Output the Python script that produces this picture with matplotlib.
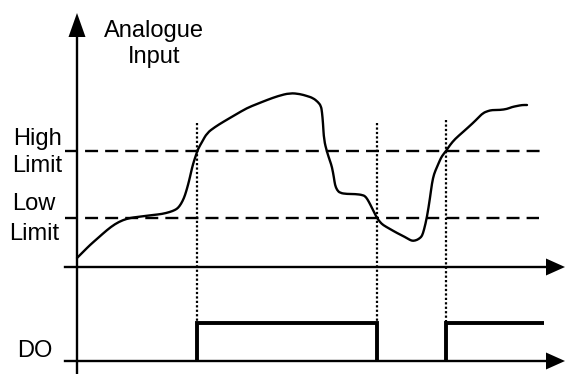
import numpy as np
import matplotlib.pyplot as plt
from matplotlib.patches import Polygon, PathPatch
from matplotlib.path import Path

# Diagrama de alarma: entrada analogica con limites alto/bajo y salida digital DO
# coordenadas en pixeles de la imagen (eje y hacia abajo)
curve_x = [77, 84, 90, 98, 107, 115, 123, 130, 137, 145, 153, 162, 170, 175, 178, 181,
           184, 186, 188, 190, 192, 194, 196, 198, 202, 207, 215, 223, 235, 247, 257,
           267, 278, 290, 300, 307, 313, 318, 321, 322, 323, 324, 327, 330, 332, 334,
           335, 337, 340, 347, 355, 363, 366, 369, 372, 375, 377, 380, 383, 390, 397,
           405, 410, 413, 417, 420, 422, 424, 427, 430, 432, 434, 437, 440, 442, 446,
           450, 455, 463, 473, 478, 483, 488, 492, 500, 507, 512, 517, 522, 527]
curve_y = [258, 251, 245, 238, 230, 224, 220, 218, 217, 216, 215, 214, 212, 210, 208, 204,
           198, 192, 185, 177, 168, 161, 155, 149, 142, 133, 127, 122, 115, 108, 104,
           100, 96, 93, 94, 96, 98, 102, 106, 112, 123, 140, 152, 161, 167, 178,
           185, 190, 193, 194, 194, 195, 197, 202, 208, 214, 218, 222, 225, 229, 233,
           237, 240, 241, 240, 238, 236, 230, 217, 198, 183, 174, 167, 160, 156, 151,
           145, 139, 132, 123, 118, 113, 111, 110, 110, 109, 107, 106, 105, 105]

high_limit = 151
low_limit = 218
switch_x = [197, 377, 446]          # instantes de cruce (lineas punteadas)
dotted_top = [123, 123, 120]
# pulsos de DO: (inicio, fin, tiene flanco de bajada)
do_on = [197, 446]
do_off = [377, 544]
do_falls = [True, False]

# niveles del grafico
axis_x = 77
axis_top_y = 267
axis_do_y = 361
do_high_y = 323

W, H = 566, 374
fig = plt.figure(figsize=(W / 100, H / 100), dpi=100)
ax = fig.add_axes([0, 0, 1, 1])
ax.set_xlim(0, W)
ax.set_ylim(H, 0)
ax.axis('off')

lw = 1.7
k = 'black'

# ejes
ax.plot([axis_x, axis_x], [373, 30], color=k, lw=lw)
ax.add_patch(Polygon([[axis_x, 13], [axis_x - 8.5, 37], [axis_x + 8.5, 37]], closed=True, color=k, lw=0))
for yy in [axis_top_y, axis_do_y]:
    ax.plot([65, 550], [yy, yy], color=k, lw=lw)
    ax.add_patch(Polygon([[565, yy], [546, yy - 8.5], [546, yy + 8.5]], closed=True, color=k, lw=0))

# limites
ax.plot([65, 543], [high_limit, high_limit], color=k, lw=lw, dashes=(5.5, 3))
ax.plot([65, 539], [low_limit, low_limit], color=k, lw=lw, dashes=(5.5, 3))

# lineas punteadas de conmutacion
for sx, st in zip(switch_x, dotted_top):
    ax.plot([sx, sx], [st, do_high_y], color=k, lw=1.6, linestyle=(0, (1, 1)))

# senal analogica, suavizada con curvas de Bezier cuadraticas
pts = list(zip(curve_x, curve_y))
verts = [pts[0]]
codes = [Path.MOVETO]
for i in range(1, len(pts) - 1):
    mid = ((pts[i][0] + pts[i + 1][0]) / 2, (pts[i][1] + pts[i + 1][1]) / 2)
    verts += [pts[i], mid]
    codes += [Path.CURVE3, Path.CURVE3]
verts.append(pts[-1])
codes.append(Path.LINETO)
ax.add_patch(PathPatch(Path(verts, codes), fill=False, edgecolor=k, lw=lw,
                       joinstyle='round', capstyle='round'))

# salida digital
for x0, x1, falls in zip(do_on, do_off, do_falls):
    px = [x0, x0, x1]
    py = [axis_do_y, do_high_y, do_high_y]
    if falls:
        px.append(x1)
        py.append(axis_do_y)
    ax.plot(px, py, color=k, lw=2.8, solid_joinstyle='miter', solid_capstyle='butt')

# textos
fs = 17
fam = ['Liberation Sans', 'DejaVu Sans']
ax.text(154, 37, 'Analogue', ha='center', va='baseline', fontsize=fs, family=fam)
ax.text(154, 63, 'Input', ha='center', va='baseline', fontsize=fs, family=fam)
ax.text(37.5, 145, 'High', ha='center', va='baseline', fontsize=fs, family=fam)
ax.text(37.5, 172, 'Limit', ha='center', va='baseline', fontsize=fs, family=fam)
ax.text(33.5, 210, 'Low', ha='center', va='baseline', fontsize=fs, family=fam)
ax.text(34, 240, 'Limit', ha='center', va='baseline', fontsize=fs, family=fam)
ax.text(34.5, 357, 'DO', ha='center', va='baseline', fontsize=fs, family=fam)

fig.savefig('out.png', dpi=100)
